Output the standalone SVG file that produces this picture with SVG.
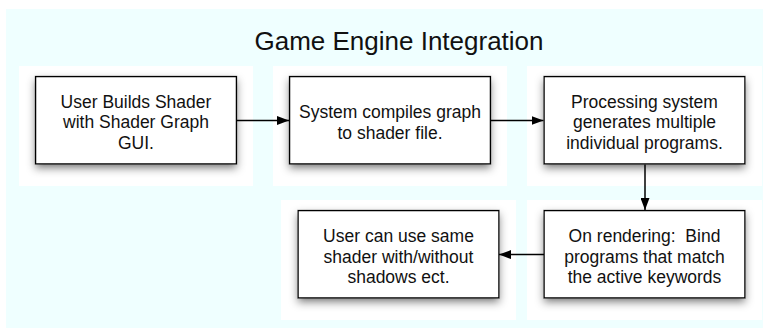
<svg xmlns="http://www.w3.org/2000/svg" width="763" height="329" viewBox="0 0 763 329">
  <style>
    .box { fill: #ffffff; stroke: #000000; stroke-width: 1.5; }
    .lbl { font-family: "Liberation Sans", Arial, sans-serif; font-size: 17.5px; fill: #111111; text-anchor: middle; white-space: pre; }
    .title { font-family: "Liberation Sans", Arial, sans-serif; font-size: 26px; fill: #111111; text-anchor: middle; }
    .edge { stroke: #000000; stroke-width: 1.5; fill: none; marker-end: url(#head); }
  </style>
  <defs>
    <!-- white backing plate with a soft drop shadow under each box -->
    <filter id="drop" x="-0.08" y="-0.12" width="1.16" height="1.37">
      <feFlood flood-color="#ffffff" result="bg"/>
      <feGaussianBlur in="SourceAlpha" stdDeviation="4"/>
      <feOffset dy="4" result="blur"/>
      <feFlood flood-color="#000000" flood-opacity="0.85"/>
      <feComposite in2="blur" operator="in" result="shadow"/>
      <feMerge>
        <feMergeNode in="bg"/>
        <feMergeNode in="shadow"/>
        <feMergeNode in="SourceGraphic"/>
      </feMerge>
    </filter>
    <marker id="head" markerUnits="userSpaceOnUse" markerWidth="12" markerHeight="9" refX="12" refY="4.5" orient="auto">
      <path d="M0,0 L12,4.5 L0,9 z" fill="#000000"/>
    </marker>
  </defs>

  <rect width="763" height="329" fill="#ffffff"/>
  <rect x="6" y="9" width="757" height="319" fill="#efffff"/>

  <text class="title" x="399" y="50">Game Engine Integration</text>

  <g id="build-shader">
    <rect class="box" x="35.5" y="76.5" width="201" height="87.5" filter="url(#drop)"/>
    <text class="lbl" x="136" y="107.5">User Builds Shader</text>
    <text class="lbl" x="136" y="128">with Shader Graph</text>
    <text class="lbl" x="136" y="148.5">GUI.</text>
  </g>

  <g id="compile-graph">
    <rect class="box" x="289.5" y="76.5" width="201" height="87.5" filter="url(#drop)"/>
    <text class="lbl" x="390" y="118">System compiles graph</text>
    <text class="lbl" x="390" y="138.5">to shader file.</text>
  </g>

  <g id="generate-programs">
    <rect class="box" x="544" y="76.5" width="201" height="87.5" filter="url(#drop)"/>
    <text class="lbl" x="644.5" y="107.5">Processing system</text>
    <text class="lbl" x="644.5" y="128">generates multiple</text>
    <text class="lbl" x="644.5" y="148.5">individual programs.</text>
  </g>

  <g id="bind-programs">
    <rect class="box" x="544" y="210.5" width="201" height="87.5" filter="url(#drop)"/>
    <text class="lbl" x="644.5" y="242" xml:space="preserve">On rendering:  Bind</text>
    <text class="lbl" x="644.5" y="262.5">programs that match</text>
    <text class="lbl" x="644.5" y="283">the active keywords</text>
  </g>

  <g id="use-shader">
    <rect class="box" x="298" y="210.5" width="201" height="87.5" filter="url(#drop)"/>
    <text class="lbl" x="398.5" y="242">User can use same</text>
    <text class="lbl" x="398.5" y="262.5">shader with/without</text>
    <text class="lbl" x="398.5" y="283">shadows ect.</text>
  </g>

  <g id="connectors">
    <line class="edge" x1="236.5" y1="120.5" x2="289" y2="120.5"/>
    <line class="edge" x1="490.5" y1="120.5" x2="543.5" y2="120.5"/>
    <line class="edge" x1="645" y1="164.5" x2="645" y2="210"/>
    <line class="edge" x1="544" y1="254.5" x2="499" y2="254.5"/>
  </g>
</svg>
